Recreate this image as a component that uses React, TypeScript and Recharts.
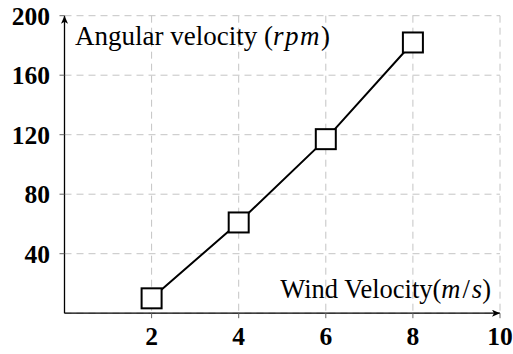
import React from "react";
import { LineChart, Line, XAxis, YAxis, CartesianGrid } from "recharts";

const windVelocity = [2, 4, 6, 8];
const angularVelocity = [10, 61, 117, 182];
const xTicks = [2, 4, 6, 8, 10];
const yTicks = [40, 80, 120, 160, 200];
const xLabel = "Wind Velocity";
const yLabel = "Angular velocity ";

const data = windVelocity.map((x, i) => ({ x, y: angularVelocity[i] }));

const serif = "Liberation Serif";

const SquareDot = (props: any) => {
  const { cx, cy, index } = props;
  if (cx == null || cy == null) return null;
  return (
    <rect
      key={`sq-${index}`}
      x={cx - 10}
      y={cy - 10}
      width={20}
      height={20}
      fill="#fff"
      stroke="#000"
      strokeWidth={2}
    />
  );
};

const XTick = (props: any) => {
  const { x, y, payload } = props;
  return (
    <text x={x} y={y + 27} textAnchor="middle" style={{ fontFamily: serif, fontWeight: 700, fontSize: 25.5 }} fill="#000">
      {payload.value}
    </text>
  );
};

const YTick = (props: any) => {
  const { x, y, payload } = props;
  return (
    <text x={x - 9.5} y={y + 8.8} textAnchor="end" style={{ fontFamily: serif, fontWeight: 700, fontSize: 25.5 }} fill="#000">
      {payload.value}
    </text>
  );
};

const YLabelContent = (props: any) => {
  const vb = props.viewBox || {};
  const x = vb.x + vb.width + 10.5;
  const y = vb.y + 29.5;
  return (
    <text x={x} y={y} style={{ fontFamily: serif, fontSize: 27 }} fill="#000" textAnchor="start">
      {yLabel}(<tspan style={{ fontStyle: "italic", letterSpacing: 1.5 }}>rpm</tspan>)
    </text>
  );
};

const XLabelContent = (props: any) => {
  const vb = props.viewBox || {};
  const x = vb.x + vb.width - 9;
  const y = vb.y - 15.5;
  return (
    <text x={x} y={y} style={{ fontFamily: serif, fontSize: 26.5 }} fill="#000" textAnchor="end">
      {xLabel}(<tspan style={{ fontStyle: "italic" }}>m</tspan>
      <tspan dx={2}>/</tspan>
      <tspan dx={2} style={{ fontStyle: "italic" }}>s</tspan>)
    </text>
  );
};

export default function App() {
  return (
    <div style={{ position: "absolute", left: 0, top: 0, width: 513, height: 354, background: "#fff" }}>
      <svg width={0} height={0} style={{ position: "absolute" }}>
        <defs>
          <marker
            id="axisArrow"
            markerUnits="userSpaceOnUse"
            markerWidth={9}
            markerHeight={8}
            refX={8}
            refY={3.5}
            orient="auto-start-reverse"
          >
            <path d="M0,0 L8,3.5 L0,7 L2,3.5 z" fill="#000" />
          </marker>
        </defs>
      </svg>
      <LineChart
        width={513}
        height={354}
        data={data}
        margin={{ top: 15.7, right: 13, bottom: 0, left: 0 }}
      >
        <CartesianGrid stroke="#c4c4c4" strokeDasharray="7 5" strokeWidth={1} />
        <XAxis
          type="number"
          dataKey="x"
          domain={[0, 10]}
          ticks={xTicks}
          height={40.8}
          tickSize={5}
          tickMargin={0}
          tick={XTick}
          tickLine={{ stroke: "#666" }}
          axisLine={{ stroke: "#000", strokeWidth: 1.3, markerEnd: "url(#axisArrow)" }}
          interval={0}
          allowDataOverflow
          label={{ content: XLabelContent }}
        />
        <YAxis
          type="number"
          dataKey="y"
          domain={[0, 200]}
          ticks={yTicks}
          width={64.5}
          tickSize={5}
          tickMargin={0}
          tick={YTick}
          tickLine={{ stroke: "#666" }}
          axisLine={{ stroke: "#000", strokeWidth: 1.3, markerStart: "url(#axisArrow)" }}
          interval={0}
          allowDataOverflow
          label={{ content: YLabelContent }}
        />
        <Line
          type="linear"
          dataKey="y"
          stroke="#000"
          strokeWidth={2}
          dot={SquareDot}
          activeDot={false}
          isAnimationActive={false}
        />
      </LineChart>
    </div>
  );
}
